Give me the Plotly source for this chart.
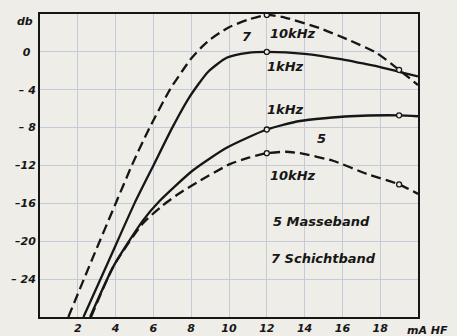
import plotly.graph_objects as go

# Level vs. HF bias current for two tape types
# 7 = Schichtband (coated tape), 5 = Masseband (dispersed tape)
x_7_10k = [1.5, 2.8, 4.07, 4.9, 5.8, 6.9, 7.5, 8.0, 8.5, 9.0, 9.5, 10.0, 11.0, 12.0, 13.0, 14.8, 16.4, 17.8, 19.0, 20.0]
y_7_10k = [-28, -21.7, -15.7, -11.8, -8.0, -3.9, -2.1, -0.7, 0.4, 1.3, 2.0, 2.6, 3.4, 3.9, 3.6, 2.5, 1.2, -0.1, -1.9, -3.5]

x_7_1k = [2.3, 3.65, 5.0, 6.0, 7.0, 7.9, 8.9, 9.9, 11.0, 12.0, 14.0, 16.0, 17.0, 18.0, 19.0, 20.0]
y_7_1k = [-28, -22.0, -16.0, -12.0, -8.0, -4.8, -2.1, -0.6, -0.1, 0.0, -0.2, -0.8, -1.2, -1.6, -2.1, -2.6]

x_5_1k = [2.65, 3.9, 5.45, 6.35, 8.1, 9.9, 12.0, 13.75, 16.4, 19.0, 20.0]
y_5_1k = [-28, -22.6, -17.8, -15.7, -12.5, -10.1, -8.2, -7.3, -6.8, -6.7, -6.8]

x_5_10k = [2.7, 3.9, 5.45, 6.5, 7.4, 8.3, 10.05, 11.0, 12.0, 13.0, 13.75, 15.5, 17.3, 19.0, 20.0]
y_5_10k = [-28, -22.6, -18.1, -16.2, -14.9, -13.8, -11.85, -11.2, -10.7, -10.55, -10.7, -11.5, -12.9, -14.0, -15.0]

# measuring points marked with small circles
mark_x = [12.0, 19.0, 12.0, 12.0, 19.0, 12.0, 19.0]
mark_y = [3.9, -1.9, 0.0, -8.2, -6.7, -10.7, -14.0]

x_ticks = [2, 4, 6, 8, 10, 12, 14, 16, 18]
y_ticks = [0, -4, -8, -12, -16, -20, -24]
y_tick_text = ["0\u2002", "– 4", "– 8", "–12", "–16", "–20", "– 24"]

ink = "#161616"
paper = "#eeede7"
grid = "#c6c9d6"
lab_font = dict(family="DejaVu Sans", size=13, color=ink, weight="bold", style="italic")
tick_font = dict(family="DejaVu Sans", size=11, color=ink, weight="bold", style="italic")

fig = go.Figure()
curves = [
    (x_7_10k, y_7_10k, "10px,5px"),
    (x_7_1k, y_7_1k, "solid"),
    (x_5_1k, y_5_1k, "solid"),
    (x_5_10k, y_5_10k, "10px,5px"),
]
for xs, ys, dash in curves:
    fig.add_trace(go.Scatter(
        x=xs, y=ys, mode="lines",
        line=dict(color=ink, width=2.3, dash=dash, shape="spline", smoothing=0.6),
        hoverinfo="skip", showlegend=False,
    ))
fig.add_trace(go.Scatter(
    x=mark_x, y=mark_y, mode="markers",
    marker=dict(symbol="circle", size=5, color=paper, line=dict(color=ink, width=1.3)),
    hoverinfo="skip", showlegend=False,
))

labels = [
    (10.95, 1.6, "7"),
    (13.4, 1.9, "10kHz"),
    (13.0, -1.5, "1kHz"),
    (13.0, -6.1, "1kHz"),
    (14.9, -9.2, "5"),
    (13.4, -13.1, "10kHz"),
    (14.9, -17.9, "5 Masseband"),
    (15.0, -21.8, "7 Schichtband"),
]
for lx, ly, txt in labels:
    fig.add_annotation(x=lx, y=ly, text=txt, showarrow=False, font=lab_font,
                       xanchor="center", yanchor="middle")

fig.add_annotation(xref="paper", yref="paper", x=-0.012, y=0.974, text="db",
                   showarrow=False, font=tick_font, xanchor="right", yanchor="middle")
fig.add_annotation(xref="paper", yref="paper", x=1.024, y=-0.046, text="mA HF",
                   showarrow=False, font=tick_font, xanchor="center", yanchor="middle")

fig.update_xaxes(
    range=[0, 20], tickvals=x_ticks, ticktext=[str(v) for v in x_ticks],
    showgrid=True, gridcolor=grid, gridwidth=1.3, zeroline=False,
    showline=True, mirror=True, linecolor=ink, linewidth=2,
    ticks="", tickfont=tick_font, automargin=False,
)
fig.update_yaxes(
    range=[-28, 4], tickvals=y_ticks, ticktext=y_tick_text,
    showgrid=True, gridcolor=grid, gridwidth=1.3, zeroline=False,
    showline=True, mirror=True, linecolor=ink, linewidth=2,
    ticks="", tickfont=tick_font, automargin=False,
)
fig.update_layout(
    width=457, height=336,
    margin=dict(l=40, r=39, t=14, b=19, autoexpand=False),
    paper_bgcolor=paper, plot_bgcolor=paper,
)
fig.write_html("out.html")
